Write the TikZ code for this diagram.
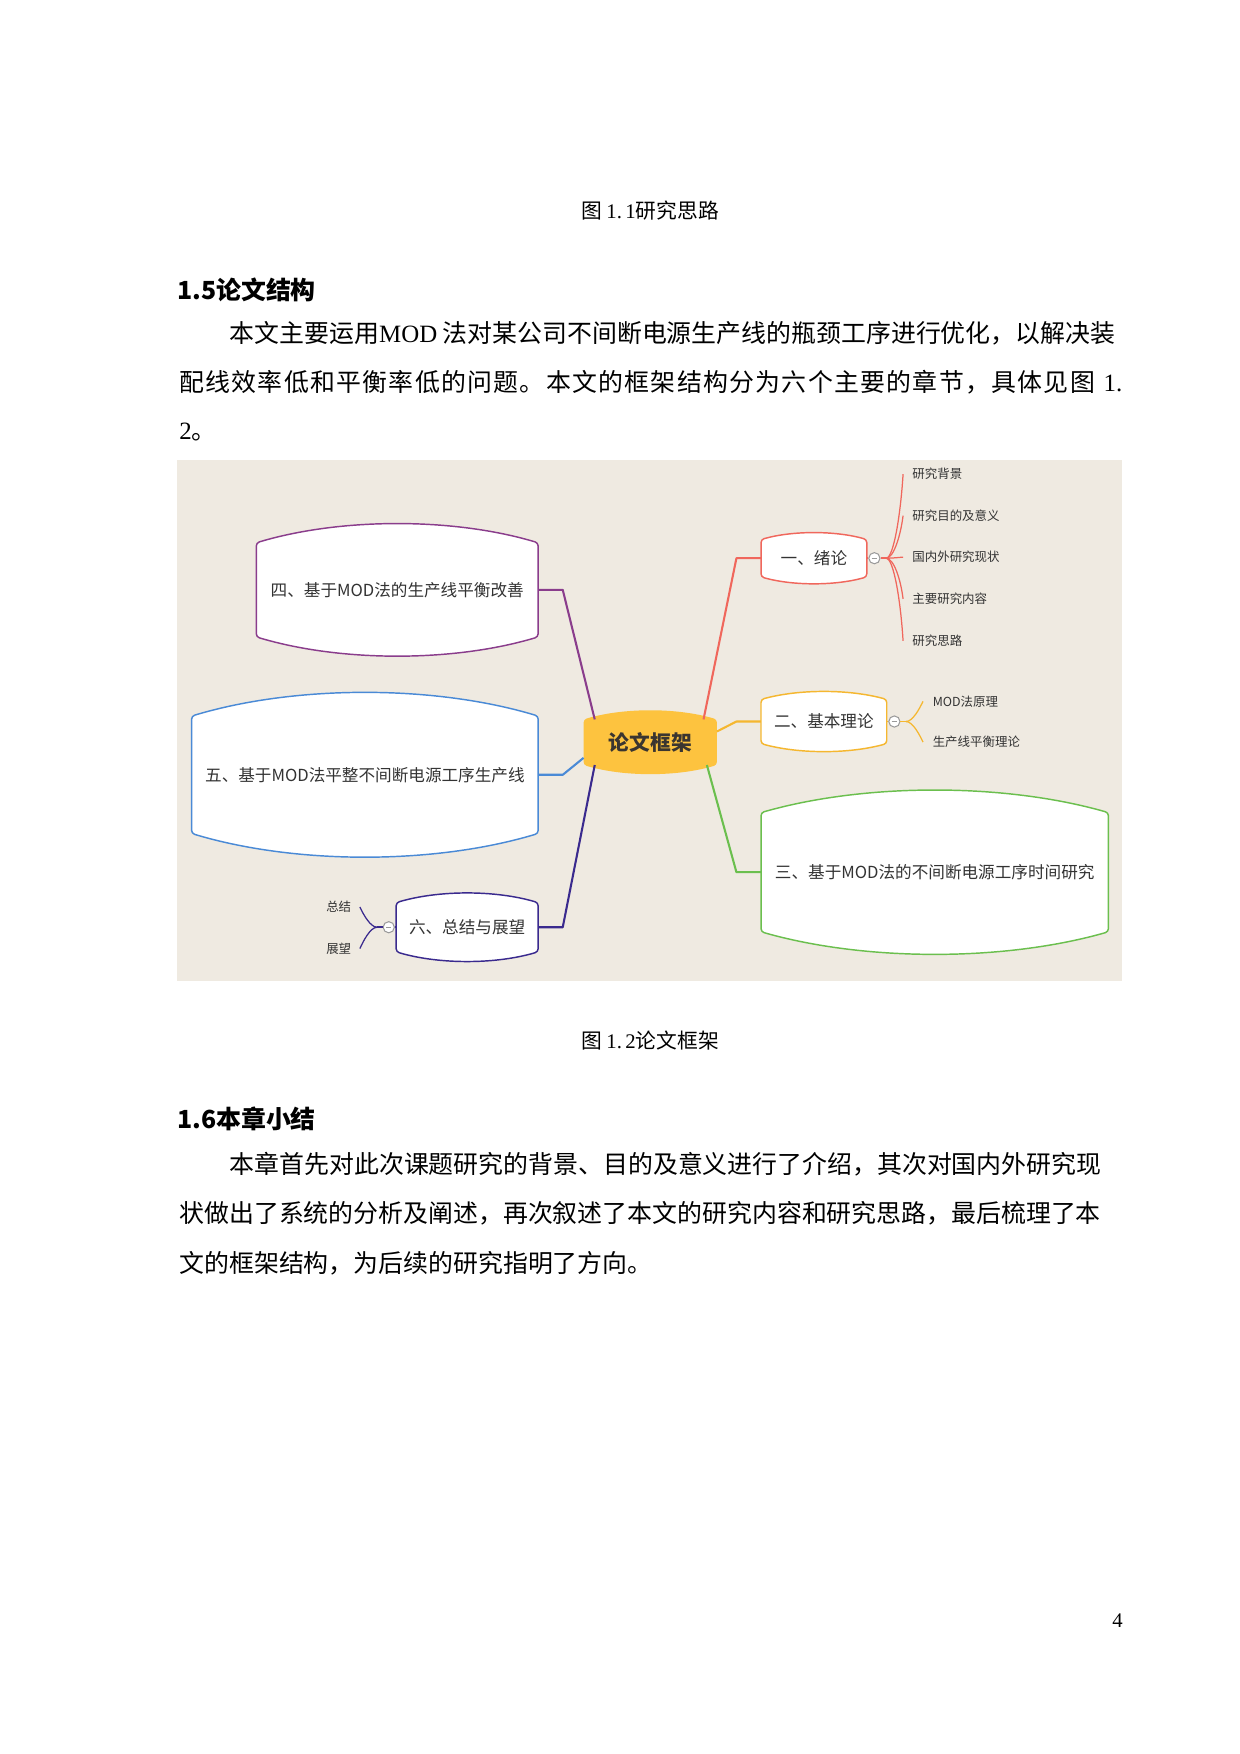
\documentclass[tikz,border=0pt]{standalone}
\usepackage{fontspec}
\setmainfont{Noto Sans CJK SC}
\newfontfamily\tnr{Liberation Serif}
\usetikzlibrary{calc,backgrounds}

\definecolor{paper}{RGB}{239,234,225}
\definecolor{ink}{HTML}{333333}
\definecolor{rootink}{HTML}{3A3530}
\definecolor{foldgray}{HTML}{9A9A9A}
\definecolor{cRoot}{HTML}{FDC33F}
\definecolor{cRed}{HTML}{F0675C}
\definecolor{cOrange}{HTML}{F5B730}
\definecolor{cGreen}{HTML}{6BBF4E}
\definecolor{cPurple}{HTML}{8A3D8C}
\definecolor{cBlue}{HTML}{4A8AD6}
\definecolor{cIndigo}{HTML}{3A2A8E}

\newlength\pxu
\setlength\pxu{0.18944mm}

% one line of body text spread out to the full measure
\makeatletter
\newcommand{\fullline}[1]{\hbox to 843\pxu{\@tfor\spreadch:=#1\do{\spreadch\hfil}\unskip}}
\makeatother
\newcommand{\figone}{{\hspace{0.3em}\tnr 1.}}

% outline of a topic: straight sides, bulging top and bottom
\newcommand{\bulgeedge}[3]{%
  \path[#3, rounded corners=1.5pt] (#1.north west)
    .. controls ($(#1.north west)!0.3!(#1.north east)+(0,-#2*1.3333)$) and ($(#1.north west)!0.7!(#1.north east)+(0,-#2*1.3333)$) .. (#1.north east)
    -- (#1.south east)
    .. controls ($(#1.south west)!0.7!(#1.south east)+(0,#2*1.3333)$) and ($(#1.south west)!0.3!(#1.south east)+(0,#2*1.3333)$) .. (#1.south west)
    -- cycle;}

\tikzset{
  bodytext/.style={inner sep=0pt, font=\fontsize{12}{14}\selectfont},
  headtext/.style={inner sep=0pt, font=\fontsize{12}{14}\selectfont\bfseries},
  captext/.style={inner sep=0pt, font=\fontsize{10}{12}\selectfont},
  topicbox/.style={inner sep=0pt, text=ink, font=\fontsize{8}{10}\selectfont},
  leafnote/.style={inner sep=0pt, text=ink, font=\fontsize{6}{7}\selectfont},
  foldmark/.style={circle, draw=foldgray, fill=white, line width=0.5pt, minimum size=10\pxu, inner sep=0pt,
    path picture={\draw[foldgray, line width=0.5pt] ([xshift=1.4pt]path picture bounding box.west) -- ([xshift=-1.4pt]path picture bounding box.east);}},
  trunk/.style={line width=1pt, line join=round},
  twig/.style={line width=0.6pt},
}

\begin{document}
\begin{tikzpicture}[x=0.18944mm, y=-0.18944mm]
\useasboundingbox (0,0) rectangle (1108.5,1568);

% page text
\node[captext] (cap11) at (581,188) {图 {\tnr 1.\,1}研究思路};
\node[headtext, anchor=west] (sec15) at (158,259) {1.5论文结构};
\node[bodytext, anchor=west] (p1a) at (205,298) {本文主要运用{\tnr MOD} 法对某公司不间断电源生产线的瓶颈工序进行优化，以解决装};
\node[bodytext, anchor=west] (p1b) at (160,342) {\fullline{配线效率低和平衡率低的问题。本文的框架结构分为六个主要的章节，具体见图\figone}};
\node[bodytext, anchor=west] (p1c) at (160,386) {{\tnr 2}。};
\node[captext] (cap12) at (581,930) {图 {\tnr 1.\,2}论文框架};
\node[headtext, anchor=west] (sec16) at (158,1000) {1.6本章小结};
\node[bodytext, anchor=west] (p2a) at (205,1041) {本章首先对此次课题研究的背景、目的及意义进行了介绍，其次对国内外研究现};
\node[bodytext, anchor=west] (p2b) at (160,1085) {状做出了系统的分析及阐述，再次叙述了本文的研究内容和研究思路，最后梳理了本};
\node[bodytext, anchor=west] (p2c) at (160,1129) {文的框架结构，为后续的研究指明了方向。};
\node[captext, font=\tnr\fontsize{10}{12}\selectfont] (pageno) at (999,1449) {4};

% mind map
\node[topicbox, minimum width=118.5\pxu, minimum height=40\pxu, text=rootink, font=\fontsize{10}{12}\selectfont\bfseries] (root) at (581.3,663.5) {论文框架};
\node[topicbox, minimum width=93.8\pxu, minimum height=32.7\pxu] (ch1) at (727.6,499) {一、绪论};
\node[topicbox, minimum width=111.7\pxu, minimum height=38.7\pxu] (ch2) at (736.5,645) {二、基本理论};
\node[topicbox, minimum width=309.8\pxu, minimum height=105.8\pxu] (ch3) at (835.6,779.7) {三、基于MOD法的不间断电源工序时间研究};
\node[topicbox, minimum width=251.2\pxu, minimum height=83.4\pxu] (ch4) at (355.1,527.3) {四、基于MOD法的生产线平衡改善};
\node[topicbox, minimum width=309.1\pxu, minimum height=104.2\pxu] (ch5) at (326.2,692.6) {五、基于MOD法平整不间断电源工序生产线};
\node[topicbox, minimum width=126.2\pxu, minimum height=43.2\pxu] (ch6) at (417.6,828.9) {六、总结与展望};

\draw[trunk, cRed] ($(root.north east)+(-12,0)$) -- ($(ch1.west)+(-22,0)$) -- (ch1.west);
\draw[trunk, cOrange] ($(root.east)+(0,-9.6)$) -- ($(ch2.west)+(-22,0)$) -- (ch2.west);
\draw[trunk, cGreen] ($(root.south east)+(-9,0)$) -- ($(ch3.west)+(-22,0)$) -- (ch3.west);
\draw[trunk, cPurple] ($(root.north west)+(10,0)$) -- ($(ch4.east)+(22,0)$) -- (ch4.east);
\draw[trunk, cBlue] ($(root.west)+(0,14)$) -- ($(ch5.east)+(22,0)$) -- (ch5.east);
\draw[trunk, cIndigo] ($(root.south west)+(10,0)$) -- ($(ch6.east)+(22,0)$) -- (ch6.east);

% sub topics
\node[foldmark] (f1) at ($(ch1.east)+(6.8,0)$) {};
\coordinate (h1) at ($(f1.east)+(5,0)$);
\draw[twig, cRed, line width=0.8pt] (ch1.east) -- (f1.west) (f1.east) -- (h1);
\foreach \n/\t/\yy in {a/研究背景/423.9, b/研究目的及意义/460.9, c/国内外研究现状/498.1, d/主要研究内容/535.4, e/研究思路/572.9} {
  \node[leafnote, anchor=west] (s1\n) at (815.3,\yy) {\t};
  \draw[twig, cRed] (h1) .. controls +(7,0) and +(-2,{(498-\yy)*0.45}) .. ($(s1\n.west)+(-8,0)$);
}

\node[foldmark] (f2) at ($(ch2.east)+(6.8,0)$) {};
\coordinate (h2) at ($(f2.east)+(5,0)$);
\draw[twig, cOrange, line width=0.8pt] (ch2.east) -- (f2.west) (f2.east) -- (h2);
\foreach \n/\t/\yy in {a/MOD法原理/627, b/生产线平衡理论/663.4} {
  \node[leafnote, anchor=west] (s2\n) at (833.5,\yy) {\t};
  \draw[twig, cOrange] (h2) .. controls +(6,0) and +(-3,{(645-\yy)*0.35}) .. ($(s2\n.west)+(-8.4,0)$);
}

\node[foldmark] (f6) at ($(ch6.west)+(-6.6,0)$) {};
\coordinate (h6) at ($(f6.west)+(-5,0)$);
\draw[twig, cIndigo, line width=0.8pt] (ch6.west) -- (f6.east) (f6.west) -- (h6);
\foreach \n/\t/\yy in {a/总结/810.8, b/展望/848} {
  \node[leafnote, anchor=east] (s6\n) at (314.3,\yy) {\t};
  \draw[twig, cIndigo] (h6) .. controls +(-6,0) and +(3,{(829-\yy)*0.35}) .. ($(s6\n.east)+(7.4,0)$);
}

\begin{scope}[on background layer]
  \fill[white] (0,0) rectangle (1108.5,1568);
  \fill[paper] (158,411) rectangle (1003,877);
  \bulgeedge{root}{8}{fill=cRoot}
  \bulgeedge{ch1}{6}{draw=cRed, fill=white, line width=0.7pt}
  \bulgeedge{ch2}{7}{draw=cOrange, fill=white, line width=0.7pt}
  \bulgeedge{ch3}{20}{draw=cGreen, fill=white, line width=0.7pt}
  \bulgeedge{ch4}{17}{draw=cPurple, fill=white, line width=0.7pt}
  \bulgeedge{ch5}{21}{draw=cBlue, fill=white, line width=0.7pt}
  \bulgeedge{ch6}{8.5}{draw=cIndigo, fill=white, line width=0.7pt}
\end{scope}
\end{tikzpicture}
\end{document}
